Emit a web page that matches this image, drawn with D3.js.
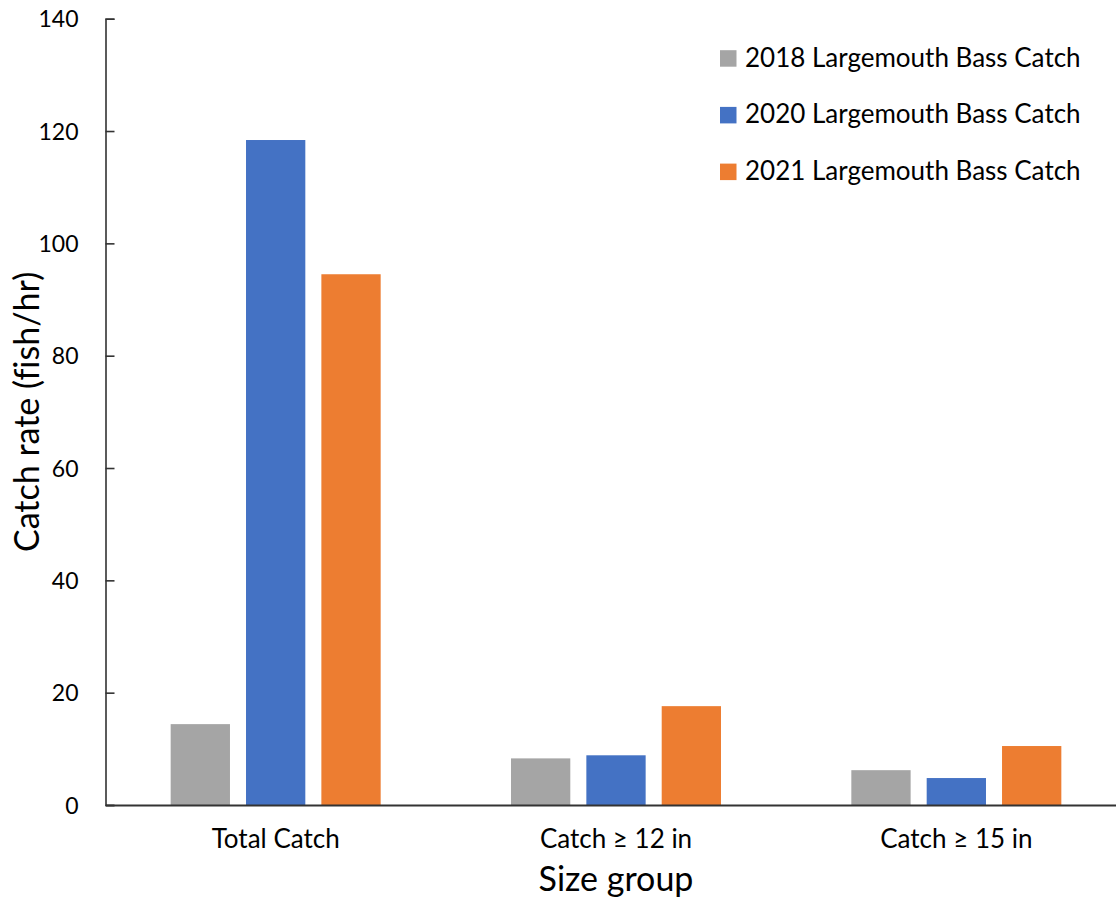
<!DOCTYPE html>
<html>
<head>
<meta charset="utf-8">
<script src="https://cdn.jsdelivr.net/npm/d3@7"></script>
<style>
body { margin: 0; background: #fff; }
svg text { font-family: Lato, "Open Sans", sans-serif; fill: #000; font-variant-ligatures: none; }
</style>
</head>
<body>
<div id="body"></div>
<script>
// data
let groups = ['Total Catch', 'Catch \u2265 12 in', 'Catch \u2265 15 in']
let seriesNames = ['2018 Largemouth Bass Catch', '2020 Largemouth Bass Catch', '2021 Largemouth Bass Catch']
let catch2018 = [14.4, 8.3, 6.2]
let catch2020 = [118.4, 8.85, 4.8]
let catch2021 = [94.5, 17.6, 10.5]
let yTicks = [0, 20, 40, 60, 80, 100, 120, 140]
let colors = ['#A5A5A5', '#4472C4', '#ED7D31']

let size = { width: 1116, height: 903 }
let plot = { left: 105.5, right: 1126.5, top: 18.7, bottom: 805 }

let svg = d3.select('#body')
  .append('svg')
  .attr('width', size.width)
  .attr('height', size.height)

let rows = groups.map((g, i) => ({
  group: g,
  values: [catch2018[i], catch2020[i], catch2021[i]]
}))

// scales
let yScale = d3.scaleLinear()
  .domain([0, 140])
  .range([plot.bottom, plot.top])
let x0 = d3.scaleBand()
  .domain(groups)
  .range([plot.left, plot.right])
  .padding(0)
let step = x0.bandwidth()
let x1 = d3.scaleBand()
  .domain(d3.range(seriesNames.length))
  .range([(step - 210) / 2, (step + 210) / 2])
  .paddingInner(0.213)
  .paddingOuter(0)

// bars
svg.append('g')
  .selectAll('g')
  .data(rows)
  .join('g')
  .attr('transform', d => `translate(${x0(d.group)},0)`)
  .selectAll('rect')
  .data(d => d.values)
  .join('rect')
  .attr('x', (d, i) => x1(i))
  .attr('y', d => yScale(d))
  .attr('width', x1.bandwidth())
  .attr('height', d => yScale(0) - yScale(d))
  .attr('fill', (d, i) => colors[i])

// y axis, ticks pointing in
let yAxis = d3.axisRight(yScale).tickValues(yTicks).tickSize(9).tickFormat(d3.format('d'))
let gY = svg.append('g')
  .attr('transform', `translate(${plot.left},0)`)
  .call(yAxis)
gY.select('.domain').attr('stroke', '#333').attr('stroke-width', 1.6)
gY.selectAll('.tick line').attr('stroke', '#333').attr('stroke-width', 1.6)
gY.selectAll('.tick text')
  .attr('x', -27)
  .attr('text-anchor', 'end')
  .attr('font-size', 23)
  .attr('dy', '0.36em')

// x axis
let xAxis = d3.axisBottom(x0).tickSize(0).tickSizeOuter(0)
let gX = svg.append('g')
  .attr('transform', `translate(0,${plot.bottom})`)
  .call(xAxis)
gX.select('.domain').attr('stroke', '#333').attr('stroke-width', 2.2)
gX.selectAll('.tick text')
  .attr('y', 43)
  .attr('dy', 0)
  .attr('font-size', 26)

// axis titles
svg.append('text')
  .attr('transform', `translate(39,${(plot.top + plot.bottom) / 2}) rotate(-90)`)
  .attr('text-anchor', 'middle')
  .attr('font-size', 34)
  .text('Catch rate (fish/hr)')
svg.append('text')
  .attr('x', x0(groups[1]) + step / 2)
  .attr('y', 891)
  .attr('text-anchor', 'middle')
  .attr('font-size', 34)
  .text('Size group')

// legend
let legend = svg.append('g')
  .selectAll('g')
  .data(seriesNames)
  .join('g')
  .attr('transform', (d, i) => `translate(720,${66.7 + i * 56.7})`)
legend.append('rect')
  .attr('x', 0)
  .attr('y', -16.5)
  .attr('width', 16.5)
  .attr('height', 16.5)
  .attr('fill', (d, i) => colors[i])
legend.append('text')
  .attr('x', 25)
  .attr('y', 0)
  .attr('font-size', 26)
  .text(d => d)
</script>
</body>
</html>
